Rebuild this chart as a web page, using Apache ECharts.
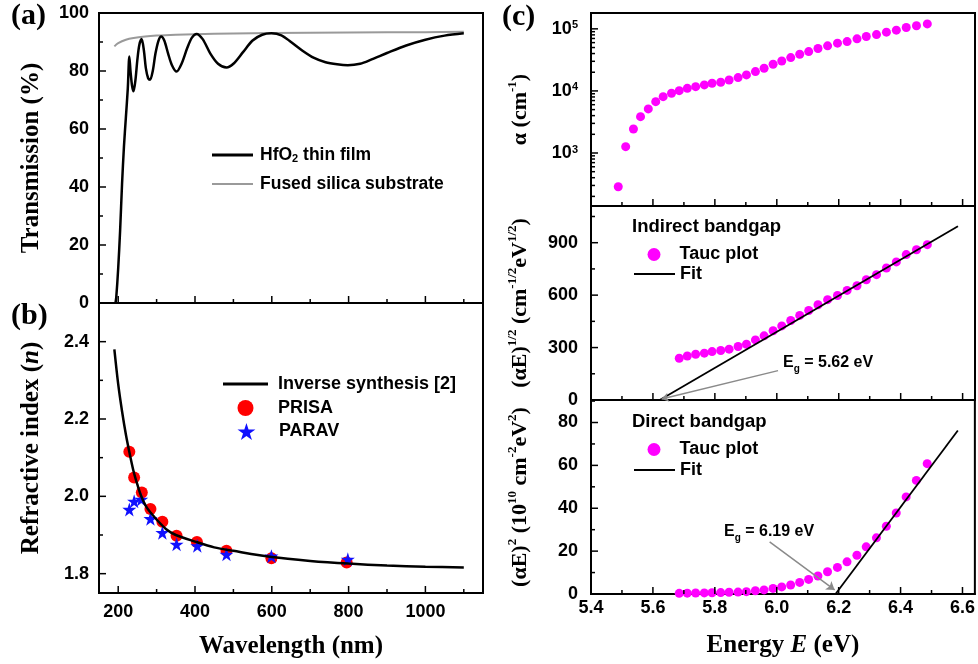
<!DOCTYPE html>
<html>
<head>
<meta charset="utf-8">
<script src="https://cdn.jsdelivr.net/npm/echarts@6/dist/echarts.min.js"></script>
<style>
  html, body { margin: 0; padding: 0; background: #fff; }
  #chart { width: 978px; height: 664px; }
</style>
</head>
<body>
<div id="chart"></div>
<script>
// (a) transmission spectra
const wlFilm = [193, 195, 200, 205, 210, 215, 220, 225, 229, 232, 236, 240, 245, 250, 255, 261, 267, 272, 278, 283, 290, 297, 305, 312, 320, 330, 340, 352, 365, 380, 392, 404, 420, 440, 460, 482, 500, 525, 550, 575, 599, 625, 650, 680, 710, 740, 770, 798, 830, 860, 900, 950, 1000, 1050, 1100]
const tFilm = [0, 2, 12, 25, 41, 54, 64, 74, 85, 80, 75, 73, 77, 84, 89, 91, 87, 81, 77.5, 77, 80, 86, 90.5, 91.9, 90.5, 86, 82, 79.8, 82.5, 88, 91.5, 92.8, 91, 86, 82.5, 81.2, 82.5, 86.5, 90.5, 92.5, 93, 92.3, 90, 87, 84.5, 83, 82.3, 82, 82.5, 84, 86.2, 88.8, 90.8, 92.2, 93]
const wlSub = [190, 200, 220, 240, 270, 300, 350, 400, 500, 600, 800, 1000, 1100]
const tSub = [88.5, 89.6, 90.8, 91.4, 91.9, 92.2, 92.5, 92.7, 92.9, 93.1, 93.3, 93.4, 93.5]

// (b) refractive index
const wlInv = [190, 200, 210, 220, 230, 240, 250, 260, 275, 300, 325, 350, 400, 450, 500, 600, 700, 800, 900, 1000, 1100]
const nInv = [2.38, 2.29, 2.22, 2.16, 2.11, 2.065, 2.03, 2.0, 1.97, 1.94, 1.915, 1.9, 1.883, 1.868, 1.859, 1.843, 1.833, 1.826, 1.821, 1.818, 1.816]
const wlPrisa = [229, 241.5, 261.5, 284, 315, 352, 405, 482, 599, 795]
const nPrisa = [2.115, 2.049, 2.01, 1.967, 1.934, 1.898, 1.882, 1.859, 1.84, 1.829]
const wlParav = [229, 241.5, 260, 284, 315, 352, 406, 482, 599, 798]
const nParav = [1.966, 1.987, 1.992, 1.942, 1.906, 1.876, 1.872, 1.85, 1.845, 1.837]

// (c) absorption and Tauc plots
const energy = [5.488, 5.512, 5.537, 5.56, 5.585, 5.609, 5.633, 5.66, 5.685, 5.711, 5.738, 5.766, 5.791, 5.819, 5.846, 5.875, 5.902, 5.931, 5.959, 5.988, 6.016, 6.045, 6.074, 6.103, 6.133, 6.164, 6.196, 6.227, 6.259, 6.289, 6.322, 6.354, 6.386, 6.418, 6.451, 6.486]
const alpha = [286, 1264, 2440, 3850, 5130, 6710, 8090, 9180, 10100, 11000, 11700, 12500, 13300, 13800, 15000, 16400, 18100, 20500, 23200, 26900, 30400, 34400, 39000, 43000, 48200, 53200, 58800, 62400, 69000, 75200, 80900, 88500, 95300, 105000, 112000, 120000]
const energyTauc = [5.685, 5.711, 5.738, 5.766, 5.791, 5.819, 5.846, 5.875, 5.902, 5.931, 5.959, 5.988, 6.016, 6.045, 6.074, 6.103, 6.133, 6.164, 6.196, 6.227, 6.259, 6.289, 6.322, 6.354, 6.386, 6.418, 6.451, 6.486]
const tauIndirect = [239, 252, 262, 268, 277, 283, 291, 306, 319, 344, 367, 396, 424, 455, 484, 512, 545, 574, 598, 627, 654, 688, 717, 755, 790, 832, 860, 889]
const tauDirect = [0.3, 0.4, 0.45, 0.5, 0.6, 0.65, 0.8, 0.9, 1.1, 1.5, 1.9, 2.6, 3.3, 4.2, 5.4, 6.8, 8.4, 10.4, 12.4, 15.0, 18.1, 22.0, 26.2, 31.6, 37.8, 45.3, 53.0, 60.8]
const fitIndirectE = [5.622, 6.585]
const fitIndirectY = [0, 994]
const fitDirectE = [6.19, 6.585]
const fitDirectY = [0, 76.3]

// tick values (major, minor) per axis
const wlMajor = [200, 400, 600, 800, 1000]
const wlMinor = [300, 500, 700, 900, 1100]
const tMajor = [20, 40, 60, 80]
const tMinor = [10, 30, 50, 70, 90]
const nMajor = [1.8, 2.0, 2.2, 2.4]
const nMinor = [1.9, 2.1, 2.3]
const eMajor = [5.6, 5.8, 6.0, 6.2, 6.4, 6.6]
const eMinor = [5.5, 5.7, 5.9, 6.1, 6.3, 6.5]
const alphaMajor = [1000, 10000, 100000]
const alphaMinor = [200, 300, 400, 500, 600, 700, 800, 900, 2000, 3000, 4000, 5000, 6000, 7000, 8000, 9000, 20000, 30000, 40000, 50000, 60000, 70000, 80000, 90000]
const indMajor = [300, 600, 900]
const indMinor = [150, 450, 750, 1050]
const dirMajor = [20, 40, 60, 80]
const dirMinor = [10, 30, 50, 70, 90]

// annotation arrows (start, end) in data units
const arrowIndirect = [[6.004, 168], [5.628, 6]]
const arrowDirect = [[5.977, 24.3], [6.187, 1.9]]

const zip = (xs, ys) => xs.map((x, i) => [x, ys[i]])

const serif = '"Liberation Serif", "Times New Roman", serif'
const sans = '"Liberation Sans", Arial, sans-serif'
const starPath = 'path://M50,0 L61.23,34.55 L97.55,34.55 L68.16,55.9 L79.39,90.45 L50,69.1 L20.61,90.45 L31.84,55.9 L2.45,34.55 L38.77,34.55 Z'
const line3 = 'path://M0,0H42V3H0Z'
const line2 = 'path://M0,0H42V2H0Z'

const tickLabel = { fontFamily: sans, fontWeight: 'bold', fontSize: 18, color: '#000' }
const titleRich = (size) => ({
  t: { fontFamily: serif, fontWeight: 'bold', fontSize: size, color: '#000', lineHeight: size + 6 },
  i: { fontFamily: serif, fontWeight: 'bold', fontStyle: 'italic', fontSize: size, color: '#000', lineHeight: size + 6 },
  sup: { fontFamily: serif, fontWeight: 'bold', fontSize: Math.round(size * 0.6), color: '#000', verticalAlign: 'top' },
})

function axis (gridIndex, opts) {
  const { label, labelMargin, formatter, ...rest } = opts
  const axisLabel = Object.assign({ show: label !== false, margin: labelMargin || 10 }, tickLabel)
  if (formatter) axisLabel.formatter = formatter
  return Object.assign({
    gridIndex,
    type: 'value',
    axisLine: { show: true, onZero: false, lineStyle: { color: '#000', width: 2 } },
    axisTick: { show: false },
    minorTick: { show: false },
    splitLine: { show: false },
    minorSplitLine: { show: false },
    axisLabel,
  }, rest)
}

// symbol icons sit about 14px left of where a line icon would start
function legendRow (name, icon, left, cy, opts = {}) {
  const h = opts.itemHeight || 14
  const row = {
    data: [{ name, icon }],
    left,
    top: cy - h / 2,
    padding: 0,
    itemWidth: opts.itemWidth || 41,
    itemHeight: h,
    selectedMode: false,
    textStyle: {
      fontFamily: sans, fontWeight: 'bold', fontSize: opts.fontSize || 18, color: '#000',
      padding: [0, 0, 0, opts.textPad || 0],
      rich: {
        m: { fontFamily: sans, fontWeight: 'bold', fontSize: opts.fontSize || 18, color: '#000' },
        sub: { fontFamily: sans, fontWeight: 'bold', fontSize: 11, color: '#000', verticalAlign: 'bottom' },
      },
    },
  }
  if (opts.formatter) row.formatter = opts.formatter
  return row
}

const gridBase = { show: true, borderColor: '#000', borderWidth: 2, backgroundColor: 'transparent' }
const fifth = (v) => Math.abs(v * 5 - Math.round(v * 5)) < 1e-6

const textGraphics = [
  { type: 'text', x: 11, y: 16, style: { text: '(a)', font: 'bold 30px ' + serif, fill: '#000', verticalAlign: 'middle' } },
  { type: 'text', x: 11, y: 316, style: { text: '(b)', font: 'bold 30px ' + serif, fill: '#000', verticalAlign: 'middle' } },
  { type: 'text', x: 502, y: 17, style: { text: '(c)', font: 'bold 30px ' + serif, fill: '#000', verticalAlign: 'middle' } },
  { type: 'text', x: 632, y: 227, style: { text: 'Indirect bandgap', font: 'bold 18.5px ' + sans, fill: '#000', verticalAlign: 'middle' } },
  { type: 'text', x: 632, y: 422, style: { text: 'Direct bandgap', font: 'bold 18.5px ' + sans, fill: '#000', verticalAlign: 'middle' } },
  {
    type: 'text', x: 783, y: 363,
    style: {
      text: '{e|E}{s|g}{e| = 5.62 eV}', verticalAlign: 'middle',
      rich: {
        e: { fontFamily: sans, fontWeight: 'bold', fontSize: 16, fill: '#000', lineHeight: 22 },
        s: { fontFamily: sans, fontWeight: 'bold', fontSize: 10, fill: '#000', verticalAlign: 'bottom' },
      },
    },
  },
  {
    type: 'text', x: 724, y: 532,
    style: {
      text: '{e|E}{s|g}{e| = 6.19 eV}', verticalAlign: 'middle',
      rich: {
        e: { fontFamily: sans, fontWeight: 'bold', fontSize: 16, fill: '#000', lineHeight: 22 },
        s: { fontFamily: sans, fontWeight: 'bold', fontSize: 10, fill: '#000', verticalAlign: 'bottom' },
      },
    },
  },
]

const chart = echarts.init(document.getElementById('chart'))
chart.setOption({
  animation: false,
  grid: [
    Object.assign({ left: 99, top: 13, width: 384, height: 290 }, gridBase),
    Object.assign({ left: 99, top: 303, width: 384, height: 290 }, gridBase),
    Object.assign({ left: 591, top: 13, width: 384, height: 193 }, gridBase),
    Object.assign({ left: 591, top: 206, width: 384, height: 194 }, gridBase),
    Object.assign({ left: 591, top: 400, width: 384, height: 194 }, gridBase),
  ],
  xAxis: [
    axis(0, { min: 150, max: 1150, splitNumber: 5, label: false }),
    axis(1, {
      min: 150, max: 1150, splitNumber: 5,
      formatter: (v) => (v % 200 === 0 ? String(v) : ''),
      name: '{t|Wavelength (nm)}', nameLocation: 'middle', nameGap: 38,
      nameTextStyle: { rich: titleRich(25) },
    }),
    axis(2, { min: 5.4, max: 6.64, interval: 0.2, label: false }),
    axis(3, { min: 5.4, max: 6.64, interval: 0.2, label: false }),
    axis(4, {
      min: 5.4, max: 6.64, interval: 0.2, labelMargin: 5,
      formatter: (v) => (fifth(v) ? v.toFixed(1) : ''),
      name: '{t|Energy }{i|E}{t| (eV)}', nameLocation: 'middle', nameGap: 36,
      nameTextStyle: { rich: titleRich(25) },
    }),
  ],
  yAxis: [
    axis(0, {
      min: 0, max: 100, interval: 20,
      name: '{t|Transmission (%)}', nameLocation: 'middle', nameGap: 52,
      nameTextStyle: { rich: titleRich(25) },
    }),
    axis(1, {
      min: 1.75, max: 2.5, splitNumber: 4,
      formatter: (v) => (fifth(v) ? v.toFixed(1) : ''),
      name: '{t|Refractive index (}{i|n}{t|)}', nameLocation: 'middle', nameGap: 52,
      nameTextStyle: { rich: titleRich(25) },
    }),
    axis(2, {
      type: 'log', logBase: 10, min: 140, max: 180000,
      axisLabel: {
        margin: 13,
        formatter: (v) => {
          const e = Math.log10(v)
          return Math.abs(e - Math.round(e)) < 1e-6 ? '{b|10}{s|' + Math.round(e) + '}' : ''
        },
        rich: {
          b: { fontFamily: sans, fontWeight: 'bold', fontSize: 18, color: '#000' },
          s: { fontFamily: sans, fontWeight: 'bold', fontSize: 11, color: '#000', verticalAlign: 'top' },
        },
      },
      name: '{t|α (cm}{sup|-1}{t|)}', nameLocation: 'middle', nameGap: 57,
      nameTextStyle: { rich: titleRich(22) },
    }),
    axis(3, {
      min: 0, max: 1110, interval: 300, labelMargin: 13,
      formatter: (v) => (v % 300 === 0 ? String(v) : ''),
      name: '{t|(αE)}{sup|1/2}{t| (cm}{sup|-1/2}{t|eV}{sup|1/2}{t|)}', nameLocation: 'middle', nameGap: 57,
      nameTextStyle: { rich: titleRich(22) },
    }),
    axis(4, {
      min: 0, max: 90.5, interval: 20, labelMargin: 13,
      formatter: (v) => (v % 20 === 0 ? String(v) : ''),
      name: '{t|(αE)}{sup|2}{t| (10}{sup|10}{t| cm}{sup|-2}{t|eV}{sup|2}{t|)}', nameLocation: 'middle', nameGap: 57,
      nameTextStyle: { rich: titleRich(22) },
    }),
  ],
  legend: [
    legendRow('HfO2 thin film', line3, 212, 153, { fontSize: 17.5, textPad: 2, formatter: () => '{m|HfO}{sub|2}{m| thin film}' }),
    legendRow('Fused silica substrate', line2, 212, 182, { fontSize: 17.5, textPad: 2 }),
    legendRow('Inverse synthesis [2]', line3, 223, 382, { itemWidth: 45, textPad: 5 }),
    legendRow('PRISA', 'circle', 237.5, 407, { itemWidth: 45, itemHeight: 16, textPad: 5 }),
    legendRow('PARAV', starPath, 237.5, 431, { itemWidth: 45, itemHeight: 17, textPad: 5 }),
    legendRow('Tauc plot', 'circle', 647.5, 252, { itemHeight: 13 }),
    legendRow('Fit', line2, 634, 272),
    legendRow('Tauc plot', 'circle', 647.5, 447, { itemHeight: 13 }),
    legendRow('Fit', line2, 634, 468),
  ],
  graphic: textGraphics,
  series: [
    {
      name: 'Fused silica substrate', type: 'line', xAxisIndex: 0, yAxisIndex: 0,
      data: zip(wlSub, tSub), symbol: 'none', smooth: 0.3,
      lineStyle: { color: '#9a9a9a', width: 2 }, itemStyle: { color: '#9a9a9a' },
    },
    {
      name: 'HfO2 thin film', type: 'line', xAxisIndex: 0, yAxisIndex: 0,
      data: zip(wlFilm, tFilm), symbol: 'none', smooth: 0.3,
      lineStyle: { color: '#000', width: 2.5 }, itemStyle: { color: '#000' },
    },
    {
      name: 'Inverse synthesis [2]', type: 'line', xAxisIndex: 1, yAxisIndex: 1,
      data: zip(wlInv, nInv), symbol: 'none', smooth: 0.3,
      lineStyle: { color: '#000', width: 2.5 }, itemStyle: { color: '#000' },
    },
    {
      name: 'PRISA', type: 'scatter', xAxisIndex: 1, yAxisIndex: 1,
      data: zip(wlPrisa, nPrisa), symbol: 'circle', symbolSize: 12,
      itemStyle: { color: '#ff0000', opacity: 1 },
    },
    {
      name: 'PARAV', type: 'scatter', xAxisIndex: 1, yAxisIndex: 1,
      data: zip(wlParav, nParav), symbol: starPath, symbolSize: 14,
      itemStyle: { color: '#1010ff', opacity: 1 },
    },
    {
      name: 'alpha', type: 'scatter', xAxisIndex: 2, yAxisIndex: 2,
      data: zip(energy, alpha), symbolSize: 9,
      itemStyle: { color: '#ff00ff', opacity: 1 },
    },
    {
      name: 'Fit', type: 'line', xAxisIndex: 3, yAxisIndex: 3,
      data: zip(fitIndirectE, fitIndirectY), symbol: 'none',
      lineStyle: { color: '#000', width: 1.8 }, itemStyle: { color: '#000' },
    },
    {
      name: 'Tauc plot', type: 'scatter', xAxisIndex: 3, yAxisIndex: 3,
      data: zip(energyTauc, tauIndirect), symbolSize: 9,
      itemStyle: { color: '#ff00ff', opacity: 1 },
      markLine: {
        silent: true, symbol: ['none', 'arrow'], symbolSize: 7, label: { show: false },
        lineStyle: { color: '#8a8a8a', width: 1.5, type: 'solid' },
        data: [[{ coord: arrowIndirect[0] }, { coord: arrowIndirect[1] }]],
      },
    },
    {
      name: 'Fit', type: 'line', xAxisIndex: 4, yAxisIndex: 4,
      data: zip(fitDirectE, fitDirectY), symbol: 'none',
      lineStyle: { color: '#000', width: 1.8 }, itemStyle: { color: '#000' },
    },
    {
      name: 'Tauc plot', type: 'scatter', xAxisIndex: 4, yAxisIndex: 4,
      data: zip(energyTauc, tauDirect), symbolSize: 9,
      itemStyle: { color: '#ff00ff', opacity: 1 },
      markLine: {
        silent: true, symbol: ['none', 'arrow'], symbolSize: 8, label: { show: false },
        lineStyle: { color: '#8a8a8a', width: 1.5, type: 'solid' },
        data: [[{ coord: arrowDirect[0] }, { coord: arrowDirect[1] }]],
      },
    },
  ],
})

// inward ticks, placed through each axis's own scale
const tickSpec = [
  { g: 0, x: [wlMajor, wlMinor], y: [tMajor, tMinor] },
  { g: 1, x: [wlMajor, wlMinor], y: [nMajor, nMinor] },
  { g: 2, x: [eMajor, eMinor], y: [alphaMajor, alphaMinor] },
  { g: 3, x: [eMajor, eMinor], y: [indMajor, indMinor] },
  { g: 4, x: [eMajor, eMinor], y: [dirMajor, dirMinor] },
]
const tickGraphics = []
const tickRect = (x, y, w, h) => ({ type: 'rect', silent: true, z: 50, shape: { x, y, width: w, height: h }, style: { fill: '#000' } })
tickSpec.forEach(({ g, x, y }) => {
  const rect = chart.getModel().getComponent('grid', g).coordinateSystem.getRect()
  const bottom = rect.y + rect.height
  x.forEach((vals, k) => {
    const len = k === 0 ? 7 : 4
    vals.forEach((v) => {
      const px = chart.convertToPixel({ xAxisIndex: g }, v)
      tickGraphics.push(tickRect(px - 0.75, bottom - len, 1.5, len))
    })
  })
  y.forEach((vals, k) => {
    const len = k === 0 ? 7 : 4
    vals.forEach((v) => {
      const py = chart.convertToPixel({ yAxisIndex: g }, v)
      tickGraphics.push(tickRect(rect.x, py - 0.75, len, 1.5))
    })
  })
})
chart.setOption({ graphic: textGraphics.concat(tickGraphics) })
</script>
</body>
</html>
